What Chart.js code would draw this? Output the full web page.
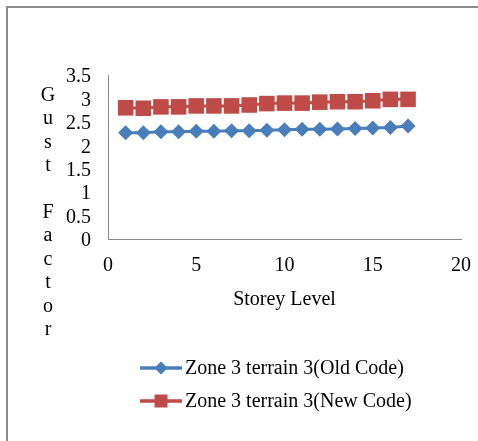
<!DOCTYPE html>
<html>
<head>
<meta charset="utf-8">
<script src="https://cdn.jsdelivr.net/npm/chart.js@4/dist/chart.umd.min.js"></script>
<style>
  html, body { margin: 0; padding: 0; background: #ffffff; }
  #wrap { position: relative; width: 478px; height: 441px; overflow: hidden; }
  #frame { position: absolute; left: 6px; top: 6px; width: 490px; height: 460px;
           border-left: 2px solid #8a8a8a; border-top: 2px solid #8a8a8a; }
  #c { position: absolute; left: 0; top: 0; }
</style>
</head>
<body>
<div id="wrap">
  <div id="frame"></div>
  <canvas id="c" width="478" height="441"></canvas>
</div>
<script>
// Storey levels and gust factors for both code versions
const storeys = [1, 2, 3, 4, 5, 6, 7, 8, 9, 10, 11, 12, 13, 14, 15, 16, 17];
const oldCode = [2.27, 2.27, 2.29, 2.29, 2.30, 2.30, 2.31, 2.31, 2.32, 2.33, 2.34, 2.34, 2.35, 2.36, 2.37, 2.38, 2.41];
const newCode = [2.80, 2.79, 2.82, 2.82, 2.84, 2.84, 2.84, 2.86, 2.89, 2.90, 2.90, 2.92, 2.93, 2.93, 2.95, 2.98, 2.98];
const seriesNames = ['Zone 3 terrain 3(Old Code)', 'Zone 3 terrain 3(New Code)'];
const yTitleLetters = ['G', 'u', 's', 't', '', 'F', 'a', 'c', 't', 'o', 'r'];
const xTitle = 'Storey Level';

const FONT = "'Liberation Serif', 'Times New Roman', serif";
const BLUE = '#4A7EBB';
const RED = '#BE4B48';

const toPoints = vals => storeys.map((s, i) => ({ x: s, y: vals[i] }));

// Vertical, letter-by-letter axis title
const yTitlePlugin = {
  id: 'stackedYTitle',
  afterDraw(chart) {
    const ctx = chart.ctx;
    ctx.save();
    ctx.font = '20px ' + FONT;
    ctx.fillStyle = '#000';
    ctx.textAlign = 'center';
    ctx.textBaseline = 'alphabetic';
    yTitleLetters.forEach((ch, i) => {
      if (ch) ctx.fillText(ch, 48, 101 + i * 23.4);
    });
    ctx.restore();
  }
};

// Legend with a line segment and marker per series, stacked in rows
const lineLegendPlugin = {
  id: 'lineLegend',
  afterDraw(chart) {
    const ctx = chart.ctx;
    const rows = [368, 401];
    chart.data.datasets.forEach((ds, i) => {
      const y = rows[i];
      ctx.save();
      ctx.strokeStyle = ds.borderColor;
      ctx.lineWidth = 3.5;
      ctx.beginPath();
      ctx.moveTo(140, y);
      ctx.lineTo(182, y);
      ctx.stroke();
      ctx.fillStyle = ds.pointBackgroundColor;
      ctx.beginPath();
      if (ds.pointStyle === 'rectRot') {
        const r = 6.5;
        ctx.moveTo(161 - r, y);
        ctx.lineTo(161, y - r);
        ctx.lineTo(161 + r, y);
        ctx.lineTo(161, y + r);
        ctx.closePath();
      } else {
        ctx.rect(161 - 6.5, y - 6.5, 13, 13);
      }
      ctx.fill();
      ctx.fillStyle = '#000';
      ctx.font = '20px ' + FONT;
      ctx.textAlign = 'left';
      ctx.textBaseline = 'middle';
      ctx.fillText(ds.label, 185, y + 1);
      ctx.restore();
    });
  }
};

new Chart(document.getElementById('c'), {
  type: 'line',
  data: {
    datasets: [
      {
        label: seriesNames[0],
        data: toPoints(oldCode),
        borderColor: BLUE,
        backgroundColor: BLUE,
        borderWidth: 3,
        pointStyle: 'rectRot',
        pointRadius: 7.5,
        pointBackgroundColor: BLUE,
        pointBorderColor: BLUE,
        pointBorderWidth: 0,
        tension: 0
      },
      {
        label: seriesNames[1],
        data: toPoints(newCode),
        borderColor: RED,
        backgroundColor: RED,
        borderWidth: 3,
        pointStyle: 'rect',
        pointRadius: 11,
        pointBackgroundColor: RED,
        pointBorderColor: RED,
        pointBorderWidth: 0,
        tension: 0
      }
    ]
  },
  options: {
    responsive: false,
    animation: false,
    devicePixelRatio: 1,
    layout: { padding: { left: 58, right: 17, top: 75, bottom: 129 } },
    plugins: {
      legend: { display: false },
      tooltip: { enabled: false }
    },
    scales: {
      x: {
        type: 'linear',
        min: 0,
        max: 20,
        ticks: { stepSize: 5, padding: 15, autoSkip: false, color: '#000', font: { family: FONT, size: 20 } },
        grid: { display: false, drawTicks: false, tickLength: 0 },
        border: { display: true, color: '#888888', width: 1 },
        title: { display: true, text: xTitle, color: '#000', padding: 0, font: { family: FONT, size: 20 } },
        afterFit(scale) {
          scale.height = 73;
          scale.paddingLeft = 0;
          scale.paddingRight = 0;
        }
      },
      y: {
        min: 0,
        max: 3.5,
        ticks: {
          stepSize: 0.5,
          padding: 17,
          labelOffset: 2,
          autoSkip: false,
          color: '#000',
          font: { family: FONT, size: 20 },
          callback: v => String(v)
        },
        grid: { display: false, drawTicks: false, tickLength: 0 },
        border: { display: true, color: '#888888', width: 1 },
        afterFit(scale) { scale.width = 50; }
      }
    }
  },
  plugins: [yTitlePlugin, lineLegendPlugin]
});
</script>
</body>
</html>
